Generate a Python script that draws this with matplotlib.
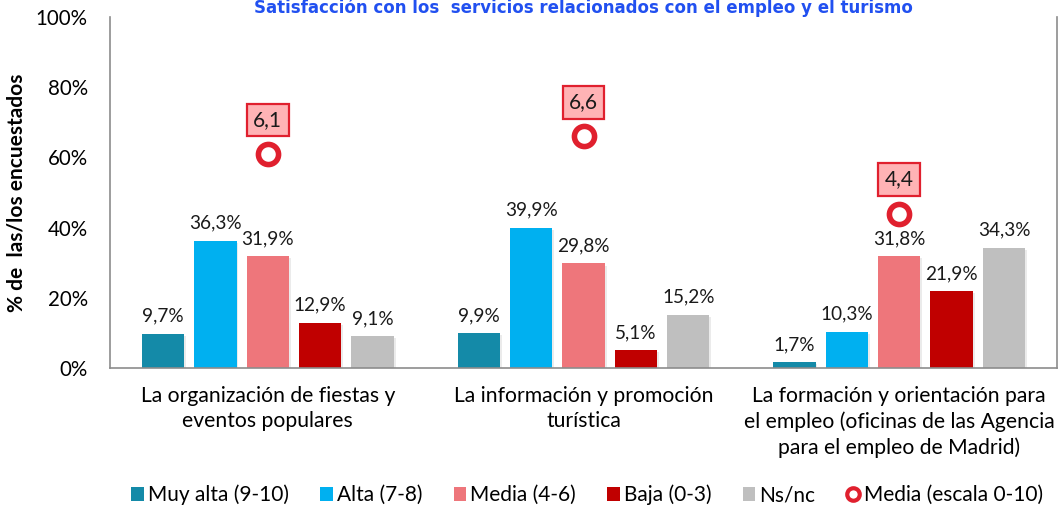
import matplotlib
matplotlib.use("Agg")
import matplotlib.pyplot as plt
from matplotlib.lines import Line2D
from matplotlib.patches import Patch
import numpy as np

plt.rcParams['font.family'] = ['Lato', 'DejaVu Sans']

categories = ["La organización de fiestas y\neventos populares",
              "La información y promoción\nturística",
              "La formación y orientación para\nel empleo (oficinas de las Agencia\npara el empleo de Madrid)"]
series_names = ["Muy alta (9-10)", "Alta (7-8)", "Media (4-6)", "Baja (0-3)", "Ns/nc"]
muy_alta = [9.7, 9.9, 1.7]
alta = [36.3, 39.9, 10.3]
media = [31.9, 29.8, 31.8]
baja = [12.9, 5.1, 21.9]
nsnc = [9.1, 15.2, 34.3]
media_escala = [6.1, 6.6, 4.4]
colors = ["#148AA8", "#00B0F0", "#EE767B", "#C00000", "#BFBFBF"]
title = "Satisfacción con los  servicios relacionados con el empleo y el turismo"

fig = plt.figure(figsize=(10.59, 5.05), dpi=100)
ax = fig.add_axes([110/1059, 1-368/505, 947/1059, 351/505])

x = np.arange(len(categories))
series = [muy_alta, alta, media, baja, nsnc]
step = 0.166
width = 0.134
for i, (vals, c) in enumerate(zip(series, colors)):
    pos = x + (i - 2) * step
    ax.bar(pos + 0.006, vals, width, bottom=-0.6, color="#000000", alpha=0.08, zorder=1)
    ax.bar(pos, vals, width, color=c, zorder=2, label=series_names[i])
    for p, v in zip(pos, vals):
        ax.text(p, v + 2.6, f"{v:.1f}%".replace(".", ","), ha="center", va="bottom",
                fontsize=13.7, color="#1a1a1a", zorder=5)

ax2 = ax.twinx()
ax2.set_ylim(0, 10)
ax2.set_yticks([])
ax2.plot(x, media_escala, linestyle="none", marker="o", markersize=14.5,
         markerfacecolor="white", markeredgecolor="#E0202E", markeredgewidth=4, zorder=6)
for xi, v in zip(x, media_escala):
    ax2.text(xi, v + 0.97, f"{v:.1f}".replace(".", ","), ha="center", va="center",
             fontsize=15, color="#1a1a1a", zorder=7,
             bbox=dict(boxstyle="square,pad=0.3", facecolor="#FFB3B5", edgecolor="#E0202E", linewidth=1.6))

ax.set_xlim(-0.5, 2.5)
ax.set_ylim(0, 100)
ax.set_yticks(np.arange(0, 101, 20))
ax.set_yticklabels([f"{t}%" for t in range(0, 101, 20)], fontsize=14.8)
ax.set_xticks(x)
ax.set_xticklabels(categories, fontsize=15.2, linespacing=1.32)
ax.tick_params(axis="x", length=0, pad=13)
ax.tick_params(axis="y", length=0, pad=16)
for sp in ["left", "bottom", "right"]:
    ax.spines[sp].set_color("#8C8C8C")
    ax.spines[sp].set_linewidth(1.2)
ax.spines["top"].set_visible(False)
for sp in ax2.spines.values():
    sp.set_visible(False)
ax.set_ylabel("% de  las/los encuestados", fontsize=15, fontweight="bold", labelpad=7)

fig.text(583/1059, 1-8/505, title, ha="center", va="center", fontsize=12,
         fontweight="bold", color="#2150F0", family=["Liberation Sans Narrow", "DejaVu Sans Condensed", "DejaVu Sans"])

handles = [Patch(facecolor=c, edgecolor="none") for c in colors]
handles.append(Line2D([], [], linestyle="none", marker="o", markersize=9,
                      markerfacecolor="white", markeredgecolor="#E0202E", markeredgewidth=3))
labels = series_names + ["Media (escala 0-10)"]
fig.legend(handles, labels, loc="center", bbox_to_anchor=(587/1059, 1-495/505), ncol=6,
           frameon=False, fontsize=15, handlelength=0.6, handleheight=0.6,
           handletextpad=0.2, columnspacing=1.5)

fig.savefig("out.png", dpi=100)
